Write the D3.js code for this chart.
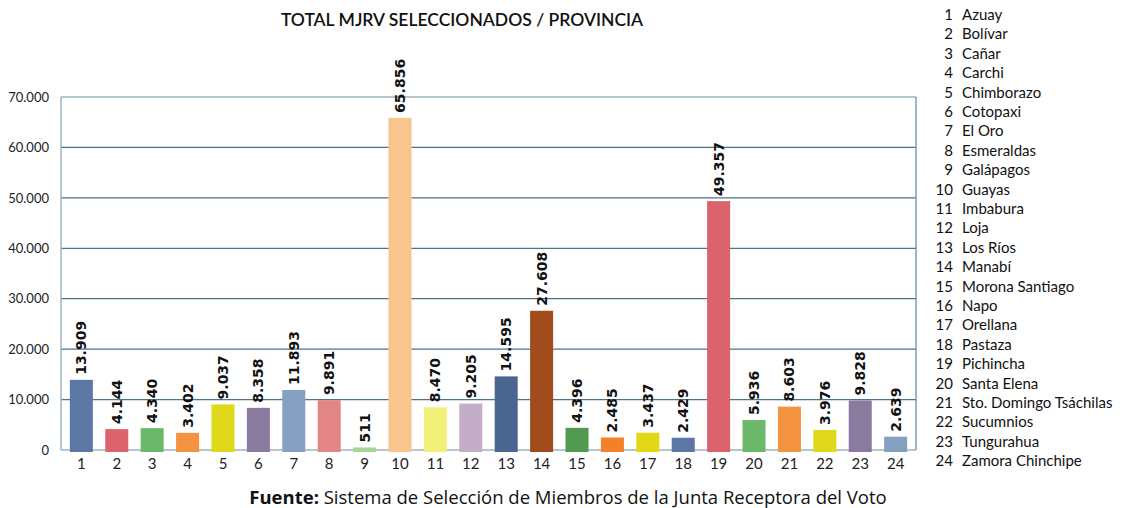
<!DOCTYPE html>
<html><head><meta charset="utf-8">
<script src="https://cdn.jsdelivr.net/npm/d3@7"></script>
<style>body{margin:0;background:#fff}svg{display:block}</style>
</head><body>
<svg id="c" width="1136" height="508"></svg>
<script>
const categories = ["1","2","3","4","5","6","7","8","9","10","11","12","13","14","15","16","17","18","19","20","21","22","23","24"];
const provinces = ["Azuay","Bolívar","Cañar","Carchi","Chimborazo","Cotopaxi","El Oro","Esmeraldas","Galápagos","Guayas","Imbabura","Loja","Los Ríos","Manabí","Morona Santiago","Napo","Orellana","Pastaza","Pichincha","Santa Elena","Sto. Domingo Tsáchilas","Sucumnios","Tungurahua","Zamora Chinchipe"];
const values = [13909,4144,4340,3402,9037,8358,11893,9891,511,65856,8470,9205,14595,27608,4396,2485,3437,2429,49357,5936,8603,3976,9828,2639];
const colors = ["#5b77a5","#dc636b","#6bb86b","#f59440","#e0d81a","#8b7aa0","#86a0c2","#e38585","#a8d69a","#fac48e","#f3f07a","#c4aec7","#4a6590","#a24c1e","#519a50","#f3812a","#e3d816","#5b77a5","#db636b","#6bb86b","#f59440","#e0d81a","#8b7aa0","#86a0c2"];
const yTicks = [0,10000,20000,30000,40000,50000,60000,70000];

const svg = d3.select("#c");
const m = {l:61, r:916, t:97, b:450};
const fmt = d3.formatLocale({decimal:",", thousands:".", grouping:[3], currency:["",""]}).format(",d");

const x = d3.scaleBand().domain(categories).range([m.l, m.r]).paddingInner(0.35).paddingOuter(0.25);
const y = d3.scaleLinear().domain([0,70000]).range([m.b, m.t]);

// gridlines
svg.append("g").selectAll("line").data(yTicks.filter(d=>d>0)).join("line")
  .attr("x1", m.l).attr("x2", m.r)
  .attr("y1", d=>y(d)).attr("y2", d=>y(d))
  .attr("stroke", d=> d===70000 ? "#9fb5c0" : "#4e7386").attr("stroke-width", 1.3);
// baseline & frame
svg.append("line").attr("x1", m.l).attr("x2", m.r).attr("y1", y(0)).attr("y2", y(0)).attr("stroke","#9fb5c0").attr("stroke-width",1.3);
svg.append("line").attr("x1", m.l).attr("x2", m.l).attr("y1", m.t).attr("y2", y(0)).attr("stroke","#9fb5c0").attr("stroke-width",1.5);
svg.append("line").attr("x1", m.r).attr("x2", m.r).attr("y1", m.t).attr("y2", y(0)).attr("stroke","#6f8fa0").attr("stroke-width",1.3);

// y axis
const ya = svg.append("g").attr("transform",`translate(${m.l},0)`)
  .call(d3.axisLeft(y).tickValues(yTicks).tickFormat(d=> d===0 ? "0" : fmt(d)).tickSize(0).tickPadding(12));
ya.select(".domain").remove();
ya.selectAll("text").attr("font-family","Lato, sans-serif").attr("font-size",13).attr("fill","#222");

// x axis
const xa = svg.append("g").attr("transform",`translate(0,${y(0)})`)
  .call(d3.axisBottom(x).tickSize(0).tickPadding(8));
xa.select(".domain").remove();
xa.selectAll("text").attr("font-family","Lato, sans-serif").attr("font-size",15).attr("fill","#222");

// bars
svg.append("g").selectAll("rect").data(values).join("rect")
  .attr("x", (d,i)=>x(categories[i])).attr("width", x.bandwidth())
  .attr("y", d=>y(d)).attr("height", d=>y(0)-y(d)+2)
  .attr("fill", (d,i)=>colors[i]);

// value labels
svg.append("g").selectAll("text").data(values).join("text")
  .attr("transform", (d,i)=>`translate(${x(categories[i])+x.bandwidth()/2+5},${y(d)-5}) rotate(-90)`)
  .attr("font-family","'DejaVu Sans', sans-serif").attr("font-weight","bold").attr("font-size",14)
  .attr("fill","#111").text(d=>fmt(d));

// title
svg.append("text").attr("x",462).attr("y",26).attr("text-anchor","middle")
  .attr("font-family","Lato, sans-serif").attr("font-weight","600").attr("font-size",17.5).attr("fill","#111")
  .text("TOTAL MJRV SELECCIONADOS / PROVINCIA");

// legend
const lg = svg.append("g");
lg.selectAll("text.n").data(categories).join("text").attr("class","n")
  .attr("x",953).attr("y",(d,i)=>20+i*19.4).attr("text-anchor","end")
  .attr("font-family","Lato, sans-serif").attr("font-size",15).attr("fill","#111").text(d=>d);
lg.selectAll("text.p").data(provinces).join("text").attr("class","p")
  .attr("x",962).attr("y",(d,i)=>20+i*19.4)
  .attr("font-family","Lato, sans-serif").attr("font-size",15).attr("fill","#111").text(d=>d);

// footer
const ft = svg.append("text").attr("x",568).attr("y",504).attr("text-anchor","middle")
  .attr("font-family","'Open Sans', sans-serif").attr("font-size",18.5).attr("fill","#111");
ft.append("tspan").attr("font-weight","bold").text("Fuente:");
ft.append("tspan").text(" Sistema de Selección de Miembros de la Junta Receptora del Voto");
</script>
</body></html>
